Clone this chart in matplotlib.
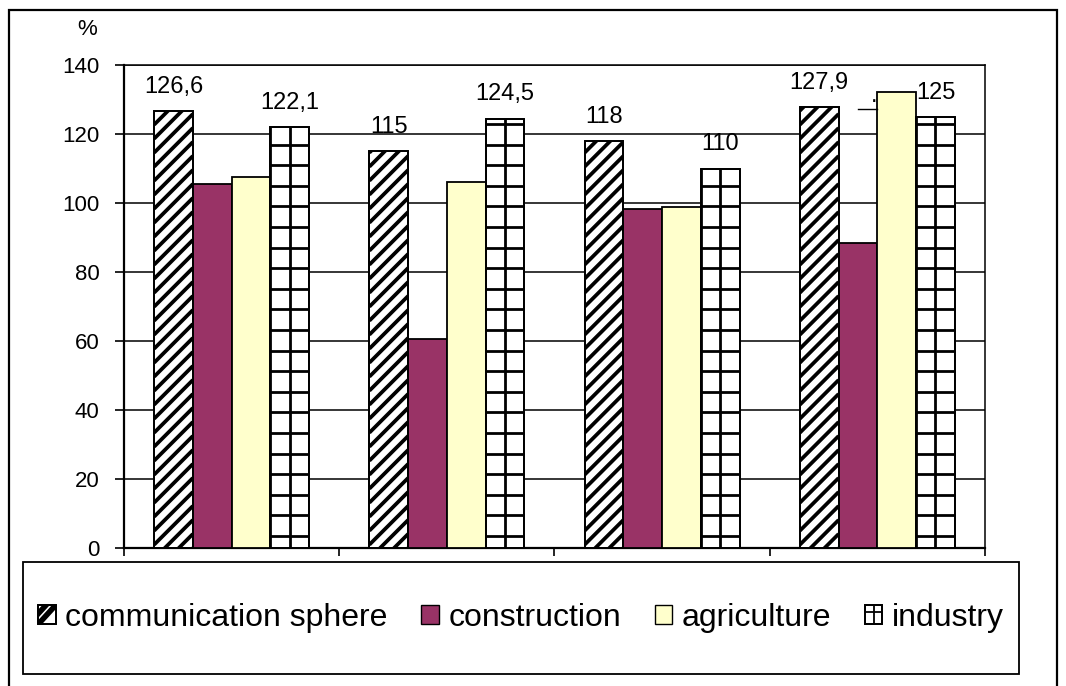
import matplotlib.pyplot as plt
import numpy as np
from matplotlib.patches import Rectangle, Patch
from matplotlib.lines import Line2D
from matplotlib.collections import LineCollection
from matplotlib.transforms import IdentityTransform
from matplotlib.legend_handler import HandlerPatch

groups = ["1", "2", "3", "4"]
series = ["communication sphere", "construction", "agriculture", "industry"]
communication = [126.6, 115, 118, 127.9]
construction = [105.5, 60.6, 98.3, 88.4]
agriculture = [107.5, 106.1, 98.8, 132.2]
industry = [122.1, 124.5, 110, 125]
label_texts_comm = ["126,6", "115", "118", "127,9"]
label_texts_ind = ["122,1", "124,5", "110", "125"]
y_ticks = [0, 20, 40, 60, 80, 100, 120, 140]

plt.rcParams["font.family"] = ["Liberation Sans", "DejaVu Sans"]

fig = plt.figure(figsize=(10.66, 6.86), dpi=100)
ax = fig.add_axes([0.1163, 0.2012, 0.8077, 0.704])
ax.set_xlim(0, 4)
ax.set_ylim(0, 140)

values = [communication, construction, agriculture, industry]
colors = ["white", "#993366", "#FFFFCC", "white"]
w = 0.18
centers = np.arange(len(groups)) + 0.5
bars = []
for i, (vals, col) in enumerate(zip(values, colors)):
    b = ax.bar(centers + (i - 1.5) * w, vals, w, color=col, edgecolor="black",
               linewidth=1.3, zorder=3)
    bars.append(b)


def hatch_bar(rect, kind):
    # hatch drawn in pixel space so spacing matches the original picture
    (x0, y0), (x1, y1) = ax.transData.transform(
        [(rect.get_x(), 0), (rect.get_x() + rect.get_width(), rect.get_height())])
    segs = []
    if kind == "diag":
        bw = x1 - x0
        c = -bw
        while c < (y1 - y0) + bw:
            segs.append([(x0, y0 + c), (x1, y0 + c + bw)])
            c += 14
        lw = 2.7
    else:
        xc = (x0 + x1) / 2
        for k in range(-3, 4):
            segs.append([(xc + k * 19.5, y0), (xc + k * 19.5, y1)])
        y = y0 + 12
        while y < y1:
            segs.append([(x0, y), (x1, y)])
            y += 20.6
        lw = 2.0
    lc = LineCollection(segs, colors="black", linewidths=lw,
                        transform=IdentityTransform(), zorder=3.5)
    ax.add_collection(lc, autolim=False)
    lc.set_clip_path(rect)


for rect in bars[0]:
    hatch_bar(rect, "diag")
for rect in bars[3]:
    hatch_bar(rect, "grid")
for i in (0, 3):
    ax.bar(centers + (i - 1.5) * w, values[i], w, fill=False,
           edgecolor="black", linewidth=1.3, zorder=4)

for rect, txt in zip(bars[0], label_texts_comm):
    ax.annotate(txt, (rect.get_x() + rect.get_width() / 2, rect.get_height()),
                xytext=(0, 9.5), textcoords="offset points", ha="center",
                va="bottom", fontsize=17)
for rect, txt in zip(bars[3], label_texts_ind):
    ax.annotate(txt, (rect.get_x() + rect.get_width() / 2, rect.get_height()),
                xytext=(0, 9.5), textcoords="offset points", ha="center",
                va="bottom", fontsize=17)

# displaced label of the last agriculture bar (only a dot and leader line show)
r = bars[2][3]
ax.plot([r.get_x() - w / 2, r.get_x()], [r.get_height() - 5] * 2,
        color="black", lw=1, zorder=4, clip_on=False)
ax.text(r.get_x() - 0.015, r.get_height() - 4.5, ".", fontsize=17,
        ha="center", va="bottom", zorder=4)

ax.set_yticks(y_ticks)
ax.set_xticks(np.arange(0, 5))
ax.set_xticklabels([])
ax.tick_params(axis="y", direction="out", length=6.5, width=1.2, pad=11,
               labelsize=16)
ax.tick_params(axis="x", direction="out", length=6, width=1.2)
ax.yaxis.grid(True, color="black", linewidth=1.1, zorder=0)
ax.set_axisbelow(True)
for side in ["left", "bottom"]:
    ax.spines[side].set_linewidth(1.6)
for side in ["top", "right"]:
    ax.spines[side].set_linewidth(1.1)

fig.text(0.0816, 0.957, "%", fontsize=16, ha="center", va="center")


class HatchHandler(HandlerPatch):
    def __init__(self, kind):
        super().__init__()
        self.kind = kind

    def create_artists(self, legend, orig_handle, xdescent, ydescent,
                       width, height, fontsize, trans):
        x0, y0 = -xdescent, -ydescent
        box = Rectangle((x0, y0), width, height, facecolor="white",
                        edgecolor="black", linewidth=1.3, transform=trans)
        if self.kind == "diag":
            marks = [Line2D([x0, x0 + width], [y0, y0 + height], color="black",
                            lw=4, transform=trans),
                     Line2D([x0, x0 + width * 0.45], [y0 + height * 0.55, y0 + height],
                            color="black", lw=4, transform=trans)]
        else:
            marks = [Line2D([x0 + width / 2] * 2, [y0, y0 + height],
                            color="black", lw=1.3, transform=trans),
                     Line2D([x0, x0 + width], [y0 + height * 0.65] * 2,
                            color="black", lw=1.3, transform=trans)]
        for m in marks:
            m.set_clip_path(box)
        return [box] + marks + [Rectangle((x0, y0), width, height, fill=False,
                                          edgecolor="black", linewidth=1.3,
                                          transform=trans)]


handles = [
    Patch(facecolor="white", edgecolor="black", label=series[0]),
    Patch(facecolor=colors[1], edgecolor="black", label=series[1]),
    Patch(facecolor=colors[2], edgecolor="black", label=series[2]),
    Patch(facecolor="white", edgecolor="black", label=series[3]),
]
fig.legend(handles=handles, loc="center",
           bbox_to_anchor=(0.0216, 0.0175, 0.9343, 0.163),
           ncol=4, fontsize=23, frameon=False, handlelength=0.55,
           handleheight=0.55, handletextpad=0.3, columnspacing=1.05,
           handler_map={handles[0]: HatchHandler("diag"),
                        handles[3]: HatchHandler("grid")})

fig.patches.append(Rectangle((0.0216, 0.0175), 0.9343, 0.163,
                             transform=fig.transFigure, fill=False,
                             edgecolor="black", linewidth=1.3))
fig.patches.append(Rectangle((9 / 1066, -0.01), 1048 / 1066, (676 / 686) + 0.01,
                             transform=fig.transFigure, fill=False,
                             edgecolor="black", linewidth=1.6))

fig.savefig("out.png", dpi=100)
